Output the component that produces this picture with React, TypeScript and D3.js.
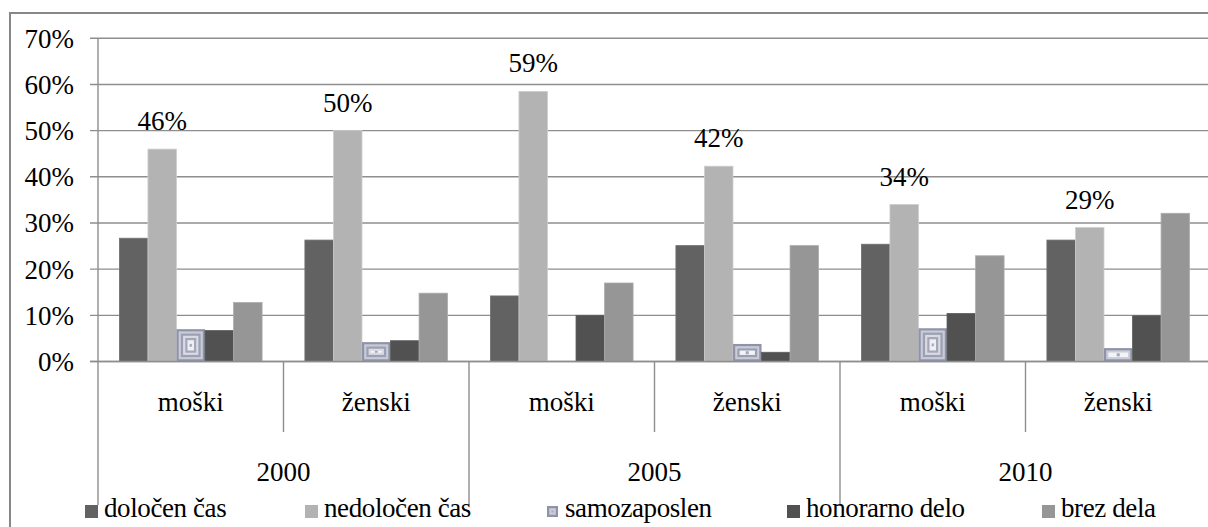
import React from "react";
import * as d3 from "d3";

const years = ["2000", "2005", "2010"];
const sexes = ["moški", "ženski"];
const seriesNames = ["določen čas", "nedoločen čas", "samozaposlen", "honorarno delo", "brez dela"];
// values in percent, order: 2000 moški, 2000 ženski, 2005 moški, 2005 ženski, 2010 moški, 2010 ženski
const dolocen = [26.7, 26.3, 14.2, 25.1, 25.4, 26.3];
const nedolocen = [46.0, 50.0, 58.5, 42.3, 34.0, 29.0];
const samozaposlen = [7.0, 4.2, 0, 3.8, 7.2, 2.9];
const honorarno = [6.7, 4.5, 10.0, 2.0, 10.4, 9.9];
const brezDela = [12.8, 14.8, 17.0, 25.1, 22.9, 32.1];
const yTicks = [0, 10, 20, 30, 40, 50, 60, 70];

const seriesValues = [dolocen, nedolocen, samozaposlen, honorarno, brezDela];
const seriesColors = ["#626262", "#b3b3b3", "pattern", "#515151", "#969696"];
const labelledSeries = 1;

const W = 1208;
const H = 527;
const FONT = '"Liberation Serif"';
const FS = 27;
const left = 98;
const right = 1211;
const y0 = 361.5;
const yTop = 38.3;

const ringColors = ["#8f93a8", "#c9cbd6", "#9ca0b4", "#d9dae2", "#a4a7b9", "#eceef2", "#b0b3c3"];

function PatternBar({ x, y, w, h }: { x: number; y: number; w: number; h: number }) {
  const rings: React.ReactNode[] = [];
  const step = 2.2;
  let i = 0;
  while (true) {
    const inset = i * step;
    const rw = w - 2 * inset;
    const rh = h - 2 * inset;
    if (rw <= 0.5 || rh <= 0.5) break;
    const nextTooSmall = (w - 2 * (inset + step) <= 0.5) || (h - 2 * (inset + step) <= 0.5);
    const col = nextTooSmall ? "#f4f4f7" : ringColors[i % ringColors.length];
    rings.push(<rect key={i} x={x + inset} y={y + inset} width={rw} height={rh} fill={col} />);
    if (nextTooSmall) {
      const cw = Math.min(rw, 3), ch = Math.min(rh, 3);
      rings.push(<rect key={"c" + i} x={x + w / 2 - cw / 2} y={y + h / 2 - ch / 2} width={cw} height={ch} fill="#a3a6b8" />);
    }
    i++;
  }
  return <g>{rings}</g>;
}

function T(props: any) {
  const { children, ...rest } = props;
  return (
    <text fontSize={FS} fill="#000" {...rest} style={{ fontFamily: FONT }}>{children}</text>
  );
}

export default function App() {
  const cats = d3.range(years.length * sexes.length);
  const x0 = d3.scaleBand<number>().domain(cats).range([left, right]).padding(0);
  const x1 = d3.scaleBand<number>().domain(d3.range(seriesNames.length)).range([0, x0.bandwidth()]).paddingInner(0).paddingOuter(0.75);
  const y = d3.scaleLinear().domain([0, 70]).range([y0, yTop]);
  const yearScale = d3.scaleBand<string>().domain(years).range([left, right]).padding(0);

  const legendX = [85, 305, 546, 787, 1042];

  return (
    <svg width={W} height={H} style={{ position: "absolute", left: 0, top: 0, background: "#fff" }}>
      <rect x={0} y={0} width={W} height={H} fill="#fff" />
      <rect x={10} y={13} width={1240} height={700} fill="none" stroke="#878787" strokeWidth={2} />
      {yTicks.map((t) => (
        <g key={t}>
          <line x1={left - 8} x2={right} y1={y(t)} y2={y(t)} stroke="#8e8e8e" strokeWidth={1.4} />
          <T x={74} y={y(t)} dy="0.35em" textAnchor="end">{t}%</T>
        </g>
      ))}
      <line x1={left} x2={left} y1={yTop} y2={y0} stroke="#8e8e8e" strokeWidth={1.4} />
      {cats.map((c) => (
        <g key={c}>
          {seriesValues.map((vals, s) => {
            const v = vals[c];
            if (v <= 0) return null;
            const bx = (x0(c) as number) + (x1(s) as number);
            const bw = x1.bandwidth();
            const by = y(v);
            const bh = y0 - by;
            if (seriesColors[s] === "pattern") {
              return <PatternBar key={s} x={bx} y={by} w={bw} h={bh} />;
            }
            return <rect key={s} x={bx} y={by} width={bw} height={bh} fill={seriesColors[s]} stroke={d3.color(seriesColors[s])!.brighter(0.4).toString()} strokeWidth={0.8} />;
          })}
        </g>
      ))}
      <line x1={left - 8} x2={right} y1={y0} y2={y0} stroke="#8e8e8e" strokeWidth={1.4} />
      {cats.map((c) => {
        const v = seriesValues[labelledSeries][c];
        const cx = (x0(c) as number) + (x1(labelledSeries) as number) + x1.bandwidth() / 2;
        return (
          <T key={c} x={cx} y={y(v) - 19} textAnchor="middle">{Math.round(v)}%</T>
        );
      })}
      {cats.map((c) => {
        const sex = sexes[c % sexes.length];
        const cx = (x0(c) as number) + x0.bandwidth() / 2;
        return (
          <T key={c} x={cx} y={411} textAnchor="middle">{sex}</T>
        );
      })}
      {cats.filter((c) => c % sexes.length !== 0).map((c) => (
        <line key={c} x1={x0(c)} x2={x0(c)} y1={y0} y2={432} stroke="#8e8e8e" strokeWidth={1.4} />
      ))}
      {years.map((yr) => (
        <g key={yr}>
          <line x1={yearScale(yr)} x2={yearScale(yr)} y1={y0} y2={505} stroke="#8e8e8e" strokeWidth={1.4} />
          <T x={(yearScale(yr) as number) + yearScale.bandwidth() / 2} y={481} textAnchor="middle">{yr}</T>
        </g>
      ))}
      <line x1={right} x2={right} y1={y0} y2={505} stroke="#8e8e8e" strokeWidth={1.4} />
      {seriesNames.map((n, s) => (
        <g key={n}>
          {seriesColors[s] === "pattern" ? (
            <PatternBar x={legendX[s] + 1} y={506} w={11} h={11} />
          ) : (
            <rect x={legendX[s]} y={505} width={13} height={13} fill={seriesColors[s]} />
          )}
          <T x={legendX[s] + 19} y={517} letterSpacing={-0.4}>{n}</T>
        </g>
      ))}
    </svg>
  );
}
